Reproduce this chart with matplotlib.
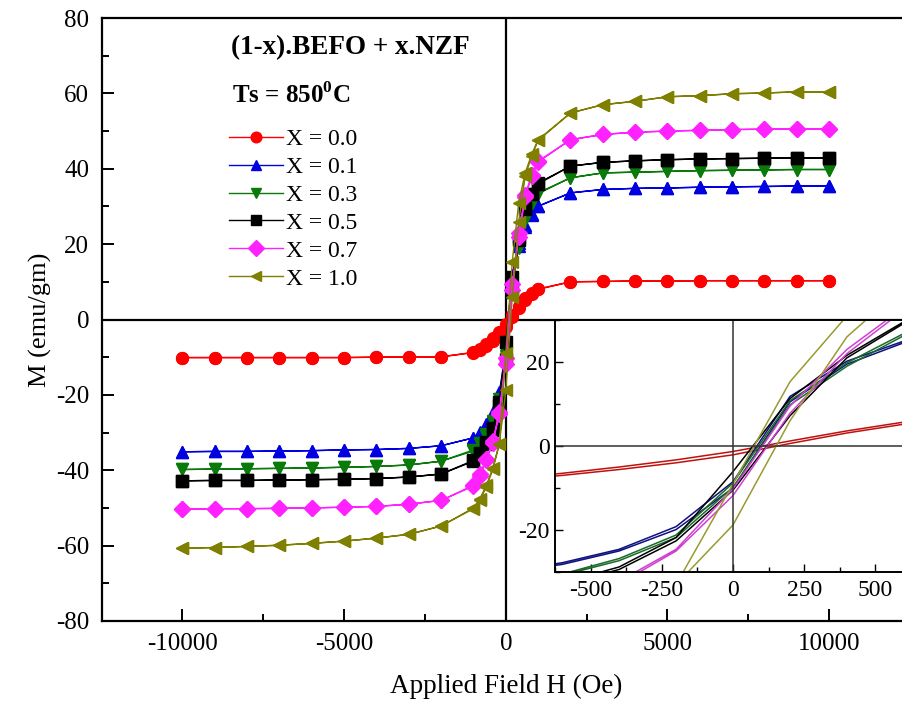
import numpy as np
import matplotlib
matplotlib.use('Agg')
import matplotlib.pyplot as plt

plt.rcParams['font.family'] = ['Liberation Serif', 'DejaVu Serif']
plt.rcParams['mathtext.fontset'] = 'custom'
plt.rcParams['mathtext.rm'] = 'Liberation Serif'
plt.rcParams['mathtext.bf'] = 'Liberation Serif:bold'
plt.rcParams['axes.unicode_minus'] = False

# applied field (Oe), descending branch order
H = [10000, 9000, 8000, 7000, 6000, 5000, 4000, 3000, 2000,
     1000, 800, 600, 400, 200, 0, -200, -400, -600, -800, -1000,
     -2000, -3000, -4000, -5000, -6000, -7000, -8000, -9000, -10000]

labels = ['X = 0.0', 'X = 0.1', 'X = 0.3', 'X = 0.5', 'X = 0.7', 'X = 1.0']

# high field, positive side (10000 ... 2000)
sat_pos = [
    [10.3, 10.3, 10.3, 10.3, 10.3, 10.2, 10.2, 10.1, 10.0],
    [35.4, 35.4, 35.3, 35.2, 35.1, 34.9, 34.8, 34.5, 33.6],
    [39.8, 39.8, 39.7, 39.6, 39.5, 39.3, 39.1, 38.9, 37.6],
    [42.9, 42.9, 42.8, 42.7, 42.6, 42.4, 42.1, 41.7, 40.7],
    [50.6, 50.6, 50.5, 50.4, 50.2, 50.0, 49.7, 49.1, 47.7],
    [60.4, 60.4, 60.1, 59.9, 59.4, 59.1, 57.9, 57.0, 54.8],
]
# low field (1000 ... -1000), descending branch
near_desc = [
    [8.1, 7.0, 5.7, 3.6, 1.2, -1.3, -3.3, -5.0, -6.5, -7.8, -8.7],
    [30.1, 28.0, 25.0, 20.2, 11.8, -8.5, -19.2, -24.6, -27.8, -29.8, -31.4],
    [33.6, 31.0, 26.8, 19.8, 10.8, -8.8, -21.2, -26.8, -30.5, -32.8, -34.6],
    [36.2, 33.4, 29.6, 21.6, 11.3, -6.1, -21.8, -28.8, -32.6, -35.5, -37.4],
    [42.0, 38.4, 33.0, 23.0, 9.5, -10.2, -24.6, -32.2, -37.0, -41.0, -44.0],
    [47.7, 43.8, 38.9, 31.0, 15.3, -9.0, -33.0, -39.3, -44.0, -47.6, -50.0],
]
# low field (1000 ... -1000), ascending branch
near_asc = [
    [8.0, 6.8, 5.2, 3.1, 0.6, -2.1, -4.0, -5.6, -7.0, -8.1, -8.8],
    [30.0, 27.8, 24.6, 19.5, 10.5, -10.0, -19.9, -25.0, -28.2, -30.0, -31.4],
    [33.4, 30.8, 26.3, 19.0, 9.8, -9.8, -21.8, -27.3, -30.8, -33.0, -34.9],
    [36.0, 33.2, 29.2, 21.0, 7.2, -10.5, -22.6, -29.4, -33.0, -35.8, -37.6],
    [41.8, 38.0, 32.4, 22.0, 7.8, -11.8, -25.0, -32.8, -37.4, -41.4, -44.2],
    [47.5, 43.4, 38.0, 26.0, 6.0, -18.8, -33.0, -39.8, -44.4, -47.8, -50.2],
]
# high field, negative side (-2000 ... -10000)
sat_neg = [
    [-9.9, -10.0, -10.0, -10.1, -10.1, -10.1, -10.1, -10.1, -10.1],
    [-33.5, -34.2, -34.5, -34.6, -34.8, -34.9, -35.0, -35.0, -35.1],
    [-37.6, -38.6, -39.0, -39.2, -39.4, -39.5, -39.6, -39.7, -39.8],
    [-41.0, -41.8, -42.2, -42.4, -42.5, -42.6, -42.7, -42.7, -42.8],
    [-48.0, -49.0, -49.6, -49.8, -50.0, -50.1, -50.2, -50.2, -50.3],
    [-54.8, -57.0, -58.0, -58.8, -59.4, -59.9, -60.2, -60.5, -60.7],
]

colors = ['#ff0000', '#0000e0', '#0a7a0a', '#000000', '#ff22ff', '#7f7f00']
inset_colors = ['#c01010', '#101080', '#1a6a2a', '#000000', '#d040d0', '#9a9a30']
markers = ['o', '^', 'v', 's', 'D', '<']

fig = plt.figure(figsize=(9.02, 7.06), dpi=100)
ax = fig.add_axes([0.1127, 0.1204, 0.8961, 0.8541])

loops = []
for i in range(6):
    desc = sat_pos[i] + near_desc[i] + sat_neg[i]
    asc = sat_pos[i] + near_asc[i] + sat_neg[i]
    hh = H + H[::-1]
    mm = desc + asc[::-1]
    loops.append((hh, mm))
    ax.plot(hh, mm, color=colors[i], marker=markers[i], markersize=8.5,
            lw=1, label=labels[i], zorder=3)

ax.axhline(0, color='black', lw=1.6, zorder=2)
ax.axvline(0, color='black', lw=1.6, zorder=2)
ax.set_xlim(-12500, 12500)
ax.set_ylim(-80, 80)
ax.set_xticks([-10000, -5000, 0, 5000, 10000])
ax.set_xticks(np.arange(-12500, 12501, 2500), minor=True)
ax.set_yticks(np.arange(-80, 81, 20))
ax.set_yticks(np.arange(-80, 81, 10), minor=True)
ax.tick_params(which='both', direction='in', width=1.4, labelsize=18)
ax.tick_params(which='major', length=8.6)
ax.tick_params(which='minor', length=5)
ax.tick_params(axis='x', pad=9)
ax.tick_params(axis='y', pad=9)
for s in ax.spines.values():
    s.set_linewidth(1.6)
ax.set_xlabel('Applied Field H (Oe)', fontsize=19.5, labelpad=13)
ax.set_ylabel('M (emu/gm)', fontsize=19, labelpad=3)

fig.text(0.256, 0.932, '(1-x).BEFO + x.NZF', fontsize=19.5, fontweight='bold',
         va='center', ha='left')
fig.text(0.257, 0.865, r'Ts = 850$^{\mathbf{0}}$C', fontsize=18,
         fontweight='bold', va='center', ha='left')

leg = ax.legend(loc='upper left', bbox_to_anchor=(0.2535, 0.818),
                bbox_transform=fig.transFigure, frameon=False, fontsize=17,
                handlelength=2.3, handletextpad=0.12, labelspacing=0.27,
                borderpad=0, borderaxespad=0, markerscale=0.9)

# inset: low field region
ins = fig.add_axes([0.6153, 0.1898, 0.3947, 0.3569])
for i in range(6):
    ins.plot(loops[i][0], loops[i][1], color=inset_colors[i], lw=1.1)
ins.axhline(0, color='#333333', lw=1.1)
ins.axvline(0, color='#333333', lw=1.1)
ins.set_xlim(-600, 600)
ins.set_ylim(-30, 30)
ins.set_xticks([-500, -250, 0, 250, 500])
ins.set_xticks(np.arange(-625, 626, 125), minor=True)
ins.set_yticks([-20, 0, 20])
ins.set_yticks([-30, -10, 10, 30], minor=True)
ins.tick_params(which='both', direction='in', width=1.0, labelsize=17)
ins.tick_params(which='major', length=6)
ins.tick_params(which='minor', length=3.5)
ins.tick_params(axis='x', pad=6)
ins.tick_params(axis='y', pad=4)
for s in ins.spines.values():
    s.set_linewidth(1.4)

fig.savefig('out.png', dpi=100)
